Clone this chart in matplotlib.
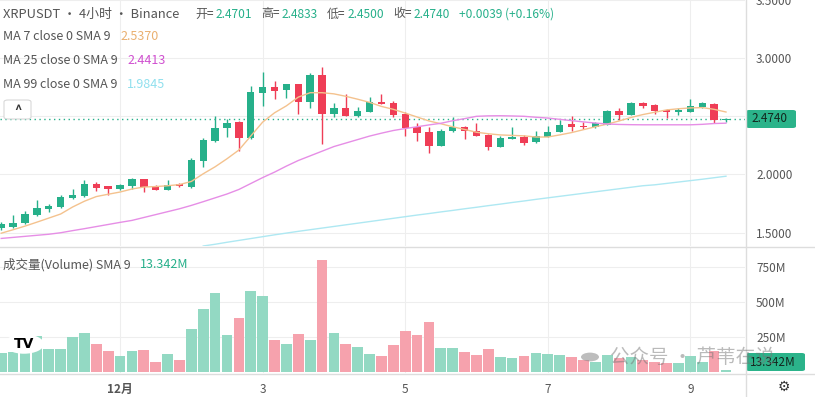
import matplotlib.pyplot as plt
from matplotlib.patches import FancyBboxPatch, Circle
import numpy as np

plt.rcParams['font.family'] = ['Noto Sans CJK SC', 'DejaVu Sans']

# OHLC of each 4h candle
opens = [1.541, 1.550, 1.584, 1.650, 1.701, 1.721, 1.797, 1.812, 1.920, 1.897,
         1.872, 1.897, 1.957, 1.900, 1.866, 1.917, 1.891, 2.120, 2.291, 2.399,
         2.447, 2.310, 2.703, 2.752, 2.724, 2.775, 2.627, 2.855, 2.524, 2.570,
         2.504, 2.541, 2.624, 2.613, 2.524, 2.405, 2.362, 2.248, 2.370, 2.410,
         2.376, 2.342, 2.239, 2.308, 2.325, 2.277, 2.325, 2.362, 2.430, 2.419,
         2.405, 2.427, 2.547, 2.513, 2.615, 2.598, 2.553, 2.541, 2.541, 2.584,
         2.610, 2.4701]
highs = [1.593, 1.650, 1.684, 1.778, 1.744, 1.821, 1.878, 1.949, 1.934, 1.903,
         1.915, 1.972, 1.963, 1.909, 1.949, 1.926, 2.143, 2.314, 2.504, 2.481,
         2.462, 2.761, 2.880, 2.803, 2.781, 2.781, 2.875, 2.923, 2.618, 2.690,
         2.584, 2.667, 2.690, 2.632, 2.533, 2.442, 2.405, 2.390, 2.490, 2.419,
         2.442, 2.348, 2.333, 2.405, 2.342, 2.376, 2.419, 2.468, 2.504, 2.453,
         2.453, 2.556, 2.570, 2.624, 2.627, 2.604, 2.561, 2.575, 2.652, 2.627,
         2.618, 2.4833]
lows = [1.521, 1.536, 1.578, 1.644, 1.678, 1.715, 1.792, 1.806, 1.855, 1.826,
        1.866, 1.878, 1.849, 1.863, 1.863, 1.895, 1.883, 2.068, 2.282, 2.325,
        2.205, 2.305, 2.590, 2.647, 2.656, 2.519, 2.575, 2.262, 2.490, 2.504,
        2.498, 2.533, 2.604, 2.490, 2.327, 2.285, 2.182, 2.248, 2.368, 2.305,
        2.327, 2.211, 2.233, 2.302, 2.251, 2.271, 2.319, 2.362, 2.376, 2.390,
        2.396, 2.425, 2.470, 2.510, 2.570, 2.524, 2.485, 2.513, 2.541, 2.570,
        2.439, 2.4500]
closes = [1.570, 1.587, 1.658, 1.712, 1.729, 1.806, 1.826, 1.915, 1.886, 1.874,
          1.906, 1.957, 1.891, 1.869, 1.912, 1.900, 2.128, 2.299, 2.402, 2.444,
          2.310, 2.709, 2.752, 2.718, 2.775, 2.627, 2.855, 2.524, 2.570, 2.504,
          2.547, 2.624, 2.610, 2.513, 2.396, 2.354, 2.248, 2.376, 2.410, 2.370,
          2.333, 2.239, 2.314, 2.325, 2.268, 2.331, 2.368, 2.425, 2.410, 2.410,
          2.439, 2.547, 2.513, 2.618, 2.592, 2.547, 2.541, 2.553, 2.590, 2.613,
          2.4701, 2.4740]

# volume in millions
volumes = [136, 140, 150, 255, 162, 162, 250, 279, 198, 150,
           112, 150, 157, 69, 126, 84, 307, 450, 564, 262,
           386, 579, 543, 226, 198, 269, 226, 798, 279, 198,
           179, 126, 112, 191, 291, 262, 357, 169, 169, 143,
           119, 162, 107, 96, 112, 136, 126, 119, 107, 84,
           72, 119, 96, 107, 84, 72, 60, 60, 112, 69,
           148, 13.342]

# moving averages
ma7 = [1.495, 1.525, 1.556, 1.590, 1.625, 1.660, 1.720, 1.770, 1.810, 1.830,
       1.849, 1.875, 1.892, 1.896, 1.903, 1.913, 1.940, 2.006, 2.066, 2.135,
       2.210, 2.330, 2.450, 2.530, 2.590, 2.665, 2.703, 2.703, 2.693, 2.672,
       2.647, 2.620, 2.585, 2.560, 2.528, 2.494, 2.460, 2.436, 2.410, 2.387,
       2.363, 2.350, 2.340, 2.336, 2.332, 2.322, 2.322, 2.340, 2.360, 2.385,
       2.410, 2.433, 2.460, 2.490, 2.515, 2.535, 2.555, 2.565, 2.572, 2.575,
       2.560, 2.537]
ma25 = [1.450, 1.459, 1.468, 1.477, 1.486, 1.499, 1.517, 1.534, 1.552, 1.570,
        1.588, 1.605, 1.630, 1.655, 1.680, 1.705, 1.734, 1.766, 1.799, 1.832,
        1.871, 1.922, 1.973, 2.020, 2.072, 2.120, 2.160, 2.200, 2.240, 2.270,
        2.300, 2.330, 2.355, 2.378, 2.395, 2.410, 2.426, 2.440, 2.462, 2.480,
        2.500, 2.504, 2.505, 2.503, 2.500, 2.492, 2.485, 2.474, 2.463, 2.452,
        2.442, 2.434, 2.430, 2.428, 2.427, 2.427, 2.427, 2.427, 2.427, 2.431,
        2.438, 2.441]
ma99_start = 17
ma99 = [1.385, 1.400, 1.417, 1.433, 1.449, 1.465, 1.481, 1.496, 1.511, 1.525,
        1.539, 1.553, 1.567, 1.581, 1.595, 1.609, 1.623, 1.637, 1.651, 1.664,
        1.678, 1.691, 1.705, 1.718, 1.732, 1.745, 1.759, 1.772, 1.786, 1.799,
        1.812, 1.825, 1.838, 1.851, 1.864, 1.877, 1.890, 1.903, 1.911, 1.923,
        1.935, 1.947, 1.959, 1.972, 1.985]

date_idx = [10, 22, 34, 46, 58]
date_labels = ['12月', '3', '5', '7', '9']

up_c = '#26b08a'
dn_c = '#ef3d56'
vup_c = '#93d9c3'
vdn_c = '#f6a2ad'
grid_c = '#eeeeee'
txt_c = '#555555'

W, H = 815, 397
fig = plt.figure(figsize=(W / 100, H / 100), dpi=100)
fig.patch.set_facecolor('white')

def px_axes(x0, y0, x1, y1):
    return fig.add_axes([x0 / W, 1 - y1 / H, (x1 - x0) / W, (y1 - y0) / H])

ax = px_axes(0, 0, 745, 246)
axv = px_axes(0, 247, 745, 373)

x = np.arange(len(opens))
o = np.array(opens); c = np.array(closes)
up = c >= o
cols = [up_c if u else dn_c for u in up]

ax.vlines(x, lows, highs, colors=cols, lw=1, zorder=3)
body_h = np.maximum(np.abs(c - o), 0.004)
ax.bar(x, body_h, bottom=np.minimum(o, c), width=0.62, color=cols, zorder=4)

ax.plot(x, ma7, color='#f4c28e', lw=1, zorder=5)
ax.plot(x, ma25, color='#e68ee6', lw=1, zorder=5)
ax.plot(x[ma99_start:], ma99, color='#aee8f2', lw=1, zorder=5)

ax.axhline(closes[-1], color=up_c, lw=1, ls=(0, (1, 2.5)), zorder=2)

ax.set_xlim(-0.105, 62.6)
ax.set_ylim(1.385, 3.487)
ax.set_yticks([1.5, 2.0, 2.5, 3.0, 3.5])
ax.set_yticklabels(['1.5000', '2.0000', '', '3.0000', '3.5000'])
ax.yaxis.tick_right()
ax.tick_params(axis='y', length=0, pad=8, labelsize=8.5, labelcolor=txt_c)
ax.set_xticks(date_idx)
ax.tick_params(axis='x', length=0, labelbottom=False)
ax.grid(True, color=grid_c, lw=0.8)
for s in ax.spines.values():
    s.set_visible(False)
ax.set_axisbelow(True)

vcols = [vup_c if u else vdn_c for u in up]
axv.bar(x, volumes, width=0.9, color=vcols, zorder=3)
axv.set_xlim(-0.105, 62.6)
axv.set_ylim(-9.3, 890.7)
axv.set_yticks([250, 500, 750])
axv.set_yticklabels(['250M', '500M', '750M'])
axv.yaxis.tick_right()
axv.tick_params(axis='y', length=0, pad=8, labelsize=8.5, labelcolor=txt_c)
axv.set_xticks(date_idx)
axv.set_xticklabels(date_labels)
axv.tick_params(axis='x', length=0, pad=7, labelsize=8.5, labelcolor=txt_c)
axv.get_xticklabels()[0].set_fontweight('bold')
axv.grid(True, color=grid_c, lw=0.8)
axv.set_axisbelow(True)
for s in axv.spines.values():
    s.set_visible(False)

# panel separators and axis frame lines
fig.add_artist(plt.Line2D([0, 1], [1 - 246.5 / H, 1 - 246.5 / H], color='#dddddd', lw=1))
fig.add_artist(plt.Line2D([0, 1], [1 - 373.5 / H, 1 - 373.5 / H], color='#dddddd', lw=1))
fig.add_artist(plt.Line2D([745.5 / W, 745.5 / W], [0, 1], color='#dddddd', lw=1))

def ftxt(xp, yp, s, **kw):
    fig.text(xp / W, 1 - yp / H, s, va='center', **kw)

# header
ftxt(3, 14, 'XRPUSDT · 4小时 · Binance', fontsize=9.3, color='#555555')
parts = [(195, '开=', '#555555'), (216, '2.4701', up_c),
         (261, '高=', '#555555'), (282, '2.4833', up_c),
         (327, '低=', '#555555'), (348, '2.4500', up_c),
         (393, '收=', '#555555'), (414, '2.4740', up_c),
         (459, '+0.0039 (+0.16%)', up_c)]
for xp, s, col in parts:
    ftxt(xp, 14, s, fontsize=8.6, color=col)

ftxt(3, 37, 'MA 7 close 0 SMA 9', fontsize=9, color=txt_c)
ftxt(120, 37, '2.5370', fontsize=9, color='#eab070')
ftxt(3, 61, 'MA 25 close 0 SMA 9', fontsize=9, color=txt_c)
ftxt(127, 61, '2.4413', fontsize=9, color='#d050d0')
ftxt(3, 85, 'MA 99 close 0 SMA 9', fontsize=9, color=txt_c)
ftxt(127, 85, '1.9845', fontsize=9, color='#90e0ee')

# collapse button
fig.add_artist(FancyBboxPatch((4 / W, 1 - 119 / H), 27 / W, 19 / H,
                              boxstyle='round,pad=0,rounding_size=0.005',
                              fc='white', ec='#d8d8d8', lw=0.8))
ftxt(17.5, 110, '^', fontsize=9, color='#333333', ha='center', fontweight='bold')

ftxt(3, 265, '成交量(Volume) SMA 9', fontsize=9, color=txt_c)
ftxt(140, 265, '13.342M', fontsize=9, color=up_c)

# last value labels on the right axis
fig.add_artist(FancyBboxPatch((746 / W, 1 - 128 / H), 50 / W, 18 / H,
                              boxstyle='round,pad=0,rounding_size=0.004',
                              fc='#2bb38a', ec='none'))
ftxt(751, 119, '2.4740', fontsize=8.5, color='#13271e')
fig.add_artist(FancyBboxPatch((746 / W, 1 - 371 / H), 59 / W, 18 / H,
                              boxstyle='round,pad=0,rounding_size=0.004',
                              fc='#2bb38a', ec='none'))
ftxt(750, 362, '13.342M', fontsize=8.5, color='#13271e')

# TradingView logo
fig.add_artist(Circle((24 / W, 1 - 344 / H), 20 / W, fc='white', ec='none', zorder=10))
ftxt(24, 344, 'TV', fontsize=10, color='black', ha='center', fontweight='bold',
     zorder=11, family='DejaVu Sans')

# settings icon
ftxt(784, 387, '⚙', fontsize=10, color='#333333', ha='center', family='DejaVu Sans')

# watermark
fig.add_artist(Circle((590 / W, 1 - 357 / H), 9 / W, fc='#888888', alpha=0.55, ec='none', zorder=10))
ftxt(610, 357, '公众号 · 芦苇在说', fontsize=14, color='#777777', alpha=0.5, zorder=10)

fig.savefig('out.png', dpi=100, facecolor='white')
